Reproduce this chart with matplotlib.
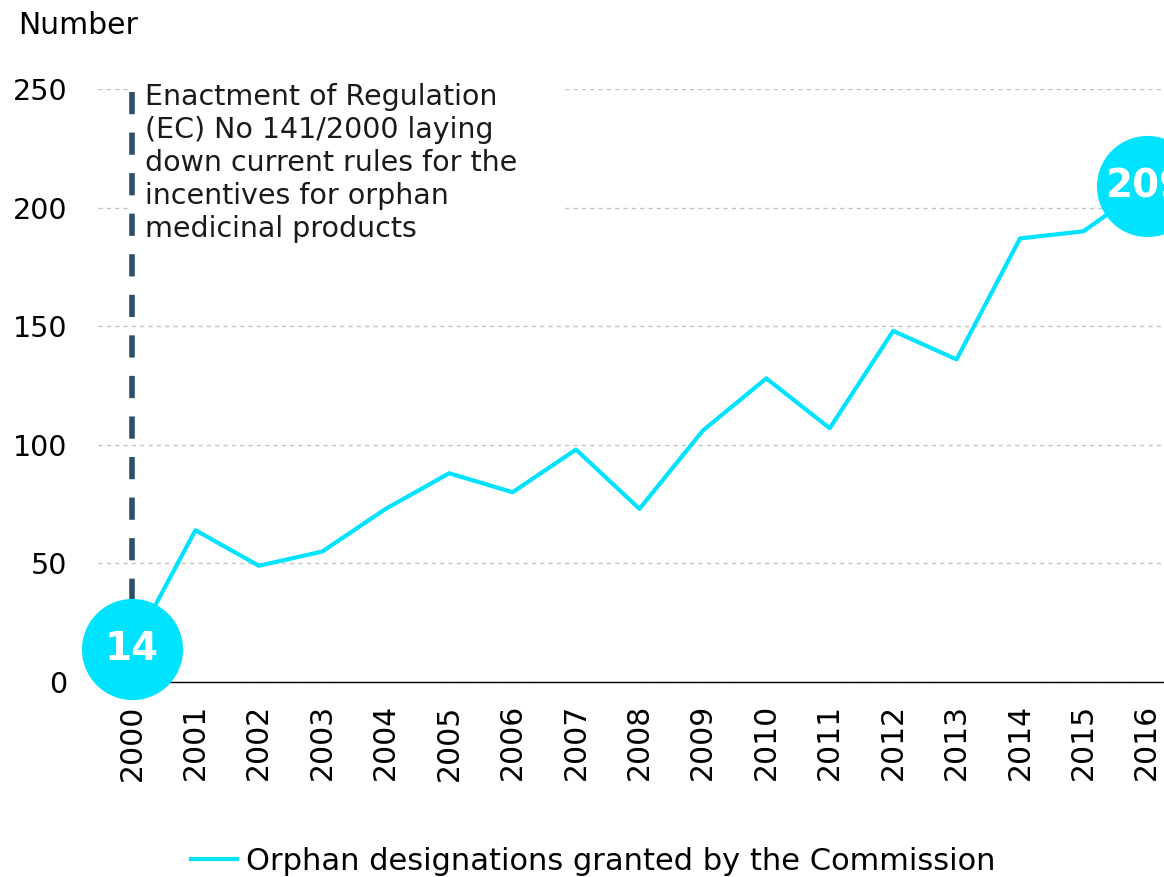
import matplotlib.pyplot as plt
from matplotlib.patches import Rectangle

years = list(range(2000, 2017))
designations = [14, 64, 49, 55, 73, 88, 80, 98, 73, 106, 128, 107, 148, 136, 187, 190, 209]
yticks = [0, 50, 100, 150, 200, 250]

series_label = 'Orphan designations granted by the Commission'
note = ('Enactment of Regulation\n(EC) No 141/2000 laying\ndown current rules for the\n'
        'incentives for orphan\nmedicinal products')

cyan = '#00E3FF'
slate = '#2D5069'

plt.rcParams['font.family'] = ['DejaVu Sans']

fig = plt.figure(figsize=(11.64, 8.77), dpi=100)
ax = fig.add_axes([98 / 1164, 195 / 877, 1066 / 1164, 593 / 877])

ax.set_xlim(1999.464, 2016.27)
ax.set_ylim(0, 250)

# horizontal grid only
ax.set_yticks(yticks)
ax.yaxis.grid(True, color='#C4C4C4', linestyle=(0, (3, 3)), linewidth=1)
ax.set_axisbelow(True)

ax.set_xticks(years)
ax.set_xticklabels([str(y) for y in years], rotation=90, fontsize=21.5)
ax.tick_params(axis='x', length=0, pad=16)
ax.tick_params(axis='y', length=0, pad=22, labelsize=20.5)

for side in ['top', 'right', 'left']:
    ax.spines[side].set_visible(False)
ax.spines['bottom'].set_color('black')
ax.spines['bottom'].set_linewidth(1)

# white box behind the annotation hides the grid
ax.add_patch(Rectangle((2000, 172), 6.78, 85, facecolor='white', edgecolor='none',
                       zorder=1.5, clip_on=False))

# regulation marker
ax.plot([2000, 2000], [0, 253], color=slate, linewidth=4, dashes=(4, 3.3),
        zorder=2, clip_on=False)
ax.text(2000.2, 252.5, note, fontsize=20.5, va='top', ha='left', linespacing=1.23,
        color='#1A1A1A', zorder=3)

line, = ax.plot(years, designations, color=cyan, linewidth=3, zorder=3,
                clip_on=False, label=series_label)

# bubbles on first and last values
for i in (0, -1):
    ax.scatter(years[i], designations[i], s=5300, color=cyan, zorder=4,
               clip_on=False, linewidths=0)
    ax.text(years[i], designations[i], str(designations[i]), color='white',
            fontsize=28, fontweight='bold', ha='center', va='center', zorder=5,
            clip_on=False)

fig.text(18 / 1164, 1 - 25 / 877, 'Number', fontsize=21.5, va='center', ha='left')

fig.legend(handles=[line], loc='center', bbox_to_anchor=(0.51, 1 - 861 / 877),
           frameon=False, fontsize=22, handlelength=1.5, handletextpad=0.3)

fig.savefig('out.png', dpi=100)
